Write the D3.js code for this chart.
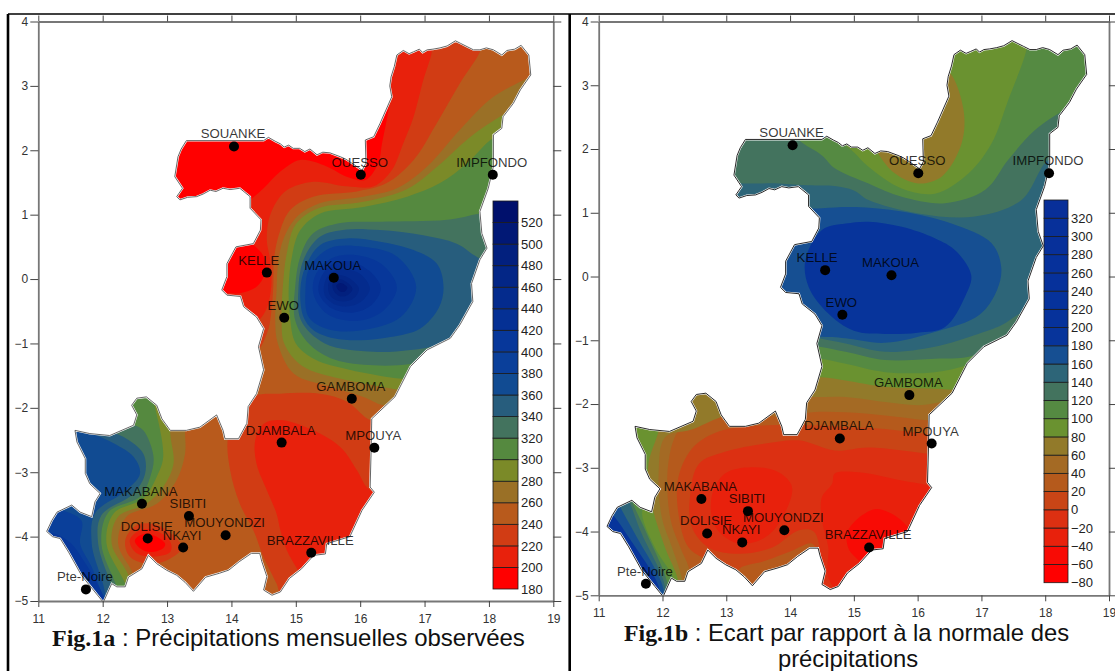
<!DOCTYPE html>
<html>
<head>
<meta charset="utf-8">
<script src="https://cdn.jsdelivr.net/npm/d3@7/dist/d3.min.js"></script>
<style>
  html, body { margin: 0; padding: 0; background: #fff; }
  svg { display: block; font-family: "Liberation Sans", Arial, sans-serif; }
</style>
</head>
<body>
<div id="chart"></div>
<script>
// 1. Data, everything in degrees

const lonTicks = [11, 12, 13, 14, 15, 16, 17, 18, 19]
const latTicks = [4, 3, 2, 1, 0, -1, -2, -3, -4, -5]

const stationNames = ["SOUANKE", "OUESSO", "IMPFONDO", "KELLE", "MAKOUA", "EWO", "GAMBOMA", "DJAMBALA", "MPOUYA",
  "MAKABANA", "SIBITI", "DOLISIE", "NKAYI", "MOUYONDZI", "BRAZZAVILLE", "Pte-Noire"]
const stationLon = [14.04, 16.01, 18.06, 14.55, 15.59, 14.82, 15.87, 14.78, 16.22, 12.61, 13.34, 12.7, 13.25, 13.91, 15.24, 11.74]
const stationLat = [2.06, 1.62, 1.62, 0.1, 0.02, -0.6, -1.86, -2.54, -2.62, -3.49, -3.68, -4.03, -4.17, -3.98, -4.25, -4.82]

const outline = [[13.3,2.15],[14.5,2.15],[14.575,2.2],[14.68,2.14],[14.76,2.1],[14.82,2.05],[14.89,2.08],[14.96,2.03],[15.06,2.03],[15.14,1.98],[15.22,2.02],[15.33,1.93],[15.42,1.97],[15.53,1.96],[15.69,1.9],[15.78,1.86],[15.87,1.8],[16.03,1.69],
  [16.09,1.8],[16.08,2.16],[16.21,2.21],[16.31,2.42],[16.49,2.83],[16.46,3.0],[16.48,3.14],[16.53,3.3],[16.57,3.48],[16.67,3.55],[16.76,3.5],[16.83,3.53],[16.92,3.57],[16.97,3.52],[17.04,3.56],[17.13,3.57],[17.24,3.59],[17.35,3.62],[17.48,3.7],[17.56,3.66],[17.66,3.61],[17.76,3.56],[17.86,3.56],[17.96,3.59],[18.07,3.56],[18.2,3.48],[18.28,3.55],[18.4,3.57],[18.5,3.63],[18.62,3.48],[18.65,3.17],
  [18.49,2.94],[18.38,2.73],[18.22,2.52],[18.2,2.34],[18.07,2.24],[18.07,1.75],[17.99,1.41],[17.86,1.05],[17.89,0.71],[17.97,0.48],[17.86,0.3],[17.73,-0.07],[17.75,-0.35],[17.55,-0.71],[17.4,-0.92],[17.04,-1.1],[16.78,-1.36],[16.54,-1.83],[16.18,-2.17],[16.17,-2.66],[16.155,-3.23],[16.22,-3.31],[16.03,-3.59],[15.84,-4.0],[15.48,-4.11],[15.46,-4.27],[15.28,-4.29],[15.09,-4.5],[14.9,-4.65],[14.76,-4.86],
  [14.63,-4.91],[14.5,-4.83],[14.55,-4.62],[14.47,-4.38],[14.44,-4.26],[14.31,-4.26],[14.12,-4.39],[13.96,-4.52],[13.81,-4.57],[13.6,-4.63],[13.41,-4.85],[13.28,-4.71],[13.15,-4.6],[12.99,-4.52],[12.84,-4.42],[12.71,-4.29],[12.61,-4.5],[12.4,-4.63],[12.35,-4.78],[12.22,-4.78],[12.14,-4.73],[12.01,-5.02],
  [11.88,-4.86],[11.67,-4.6],[11.47,-4.24],[11.34,-4.03],[11.22,-4.0],[11.13,-3.92],[11.21,-3.75],[11.29,-3.62],[11.52,-3.51],[11.65,-3.62],[11.83,-3.69],[11.88,-3.46],[11.96,-3.33],[11.8,-3.18],[11.73,-3.02],[11.73,-2.79],[11.6,-2.53],[11.57,-2.35],[11.8,-2.4],[12.11,-2.43],[12.48,-2.27],[12.53,-2.11],[12.45,-1.96],[12.53,-1.85],[12.68,-1.83],[12.84,-1.96],[12.92,-2.17],[13.05,-2.35],[13.3,-2.35],[13.51,-2.3],[13.77,-2.11],[13.87,-2.35],[13.9,-2.48],[14.11,-2.48],[14.24,-2.24],[14.26,-1.98],[14.39,-1.78],[14.5,-1.41],[14.42,-1.05],[14.5,-0.77],
  [14.39,-0.59],[14.19,-0.43],[14.14,-0.27],[13.93,-0.25],[13.85,-0.17],[13.93,0.04],[13.93,0.24],[14.07,0.5],[14.34,0.55],[14.45,0.76],[14.46,0.92],[14.29,1.1],[14.29,1.28],[14.13,1.41],[13.98,1.39],[13.87,1.41],[13.76,1.36],[13.67,1.38],[13.56,1.32],[13.46,1.28],[13.32,1.27],[13.2,1.23],[13.15,1.28],[13.24,1.41],[13.12,1.59],[13.17,1.9],[13.22,2.02]]

// Fig.1a: precipitation
const levelsA = [180, 200, 220, 240, 260, 280, 300, 320, 340, 360, 380, 400, 420, 440, 460, 480, 500, 520]
const coloursA = ["#ff0000", "#e8210c", "#d13c14", "#b85a1c", "#9a7026", "#7b8a28", "#55893f", "#43735e", "#275d7d", "#114b92", "#0a3f9a", "#07379a", "#053094", "#042b8d", "#032686", "#02207e", "#011875", "#00106c"]
const patchesA = [
  [200, [[16.48,3.0],[16.44,2.63],[16.34,2.11],[16.28,1.8],[16.08,1.54],[15.79,1.59],[15.48,1.75],[15.07,1.85],[14.76,1.67],[14.5,1.41],[14.29,1.23],[14.1,1.1],[14.15,0.8],[14.3,0.58],[14.5,0.35],[14.52,0.09],[14.39,-0.12],[14.13,-0.22],[13.8,-0.25],[13.7,-0.9],[13.6,-1.4],[10.8,-1.5],[10.8,-5.4],[17,-5.4],[19.2,-1],[19.2,4.2],[16.4,4.2],[16.3,3.4]]],
  [220, [[17.11,3.7],[17.11,3.52],[16.98,3.09],[16.83,2.52],[16.67,2.11],[16.49,1.69],[16.21,1.44],[15.79,1.44],[15.27,1.51],[14.86,1.38],[14.7,1.2],[14.58,0.92],[14.55,0.6],[14.6,0.3],[14.62,-0.1],[14.55,-0.45],[14.42,-0.65],[14.2,-0.8],[13.8,-1.2],[10.8,-1.5],[10.8,-5.4],[17,-5.4],[19.2,-1],[19.2,4.2]]],
  [240, [[17.87,3.75],[17.87,3.56],[17.55,3.04],[17.19,2.42],[16.83,1.85],[16.41,1.49],[15.95,1.36],[15.27,1.28],[14.91,1.07],[14.74,0.7],[14.66,0.3],[14.65,-0.1],[14.62,-0.5],[14.55,-0.85],[14.3,-1.2],[10.8,-1.5],[10.8,-5.4],[17,-5.4],[19.2,-1],[19.2,4.2]]],
  [260, [[18.8,3.25],[18.65,3.15],[18.07,2.83],[17.55,2.32],[17.04,1.75],[16.57,1.41],[16.05,1.28],[15.38,1.18],[15.02,0.97],[14.8,0.6],[14.72,0.2],[14.7,-0.2],[14.68,-0.64],[14.72,-1.0],[14.97,-1.47],[15.53,-1.67],[16.05,-1.83],[16.36,-1.96],[17,-2],[19.2,-1],[19.2,2]]],
  [280, [[18.5,2.7],[18.22,2.55],[17.7,2.2],[17.2,1.75],[16.73,1.4],[16.05,1.2],[15.35,1.1],[15.0,0.85],[14.86,0.4],[14.8,-0.1],[14.78,-0.6],[14.82,-1.0],[15.1,-1.35],[15.7,-1.55],[16.2,-1.65],[16.6,-1.72],[17.2,-1.8],[19.2,-1],[19.2,2]]],
  [300, [[18.4,2.3],[18.07,2.19],[17.66,1.8],[17.24,1.49],[16.73,1.28],[16.05,1.12],[15.38,1.02],[15.07,0.76],[14.94,0.35],[14.89,-0.12],[14.91,-0.59],[15.0,-1.0],[15.3,-1.25],[15.8,-1.4],[16.3,-1.5],[16.65,-1.55],[17.2,-1.6],[19.2,-1],[19.2,1.5]]],
  [320, [[18.4,1.1],[17.86,1.02],[17.35,0.92],[16.31,0.89],[15.69,0.87],[15.27,0.71],[15.07,0.35],[14.99,-0.12],[14.99,-0.64],[15.2,-1.0],[15.6,-1.25],[16.21,-1.34],[16.78,-1.32],[17.3,-1.2],[19,-0.6],[19,0.6]]],
  [340, [[18.5,0.35],[17.92,0.3],[17.5,0.55],[16.98,0.68],[16.31,0.76],[15.79,0.77],[15.38,0.66],[15.12,0.3],[15.04,-0.17],[15.08,-0.64],[15.45,-1.0],[16.21,-1.13],[16.78,-1.1],[17.1,-1.05],[17.5,-0.9],[18.5,-0.4]]],
  [360, [[17.295,-0.12],[17.19,0.24],[16.83,0.45],[16.31,0.58],[15.79,0.63],[15.38,0.53],[15.15,0.19],[15.07,-0.17],[15.12,-0.59],[15.27,-0.79],[15.59,-0.92],[16,-0.95],[16.47,-0.9],[16.93,-0.77],[17.22,-0.45]]],
  [380, [[16.87,-0.12],[16.57,0.35],[16.05,0.5],[15.53,0.48],[15.22,0.19],[15.15,-0.17],[15.2,-0.59],[15.5,-0.78],[16,-0.8],[16.63,-0.59]]],
  [400, [[16.57,-0.13],[16.35,0.22],[15.95,0.37],[15.55,0.32],[15.3,0.05],[15.28,-0.25],[15.5,-0.55],[15.95,-0.65],[16.35,-0.5]]],
  [420, [[16.32,-0.14],[16.15,0.12],[15.85,0.27],[15.55,0.22],[15.38,0.0],[15.36,-0.22],[15.55,-0.45],[15.9,-0.52],[16.18,-0.4]]],
  [440, [[16.15,-0.14],[16.0,0.08],[15.78,0.15],[15.55,0.1],[15.45,-0.05],[15.45,-0.25],[15.62,-0.4],[15.85,-0.42],[16.05,-0.32]]],
  [460, [[15.98,-0.15],[15.85,0.0],[15.7,0.06],[15.55,0.02],[15.5,-0.12],[15.55,-0.28],[15.72,-0.35],[15.9,-0.3]]],
  [480, [[15.88,-0.15],[15.78,-0.04],[15.65,0.0],[15.57,-0.08],[15.6,-0.2],[15.7,-0.27],[15.82,-0.24]]],
  [500, [[15.8,-0.13],[15.7,-0.06],[15.63,-0.1],[15.67,-0.18],[15.75,-0.2]]],
  // south-central low
  [220, [[14.15,-2.05],[13.95,-2.45],[13.98,-2.97],[14.13,-3.49],[14.34,-3.9],[14.5,-4.32],[14.7,-4.73],[14.85,-5.1],[16,-5.2],[16.8,-3.2],[16.6,-2.2],[16.18,-2.2],[15.79,-1.9],[15.38,-1.78],[14.76,-1.78],[14.35,-1.82]]],
  [200, [[14.37,-2.5],[14.39,-2.87],[14.55,-3.28],[14.7,-3.64],[14.76,-3.9],[14.86,-4.21],[15.02,-4.5],[15.3,-5],[16.3,-4.2],[16.5,-3.3],[16.22,-3.31],[16.1,-3.23],[15.95,-2.97],[15.69,-2.61],[15.27,-2.35],[14.76,-2.19],[14.5,-2.25]]],
  // south-west, rising towards the coast
  [260, [[12.48,-4.6],[12.24,-4.11],[12.37,-3.69],[12.84,-3.49],[13.15,-3.12],[13.28,-2.71],[13.28,-2.35],[13.3,-1.8],[11,-1.8],[10.9,-4.5],[12,-5.4],[12.6,-5.2]]],
  [280, [[12.4,-4.6],[12.14,-4.11],[12.24,-3.69],[12.68,-3.49],[12.94,-3.23],[13.1,-2.87],[13.05,-2.4],[13.05,-1.9],[11,-1.8],[10.9,-4.5],[12,-5.4],[12.55,-5.2]]],
  [300, [[12.35,-4.73],[12.06,-4.11],[12.17,-3.64],[12.63,-3.41],[12.84,-3.07],[12.94,-2.76],[12.81,-1.98],[12.7,-1.6],[11,-1.8],[10.9,-4.5],[12,-5.4],[12.5,-5.2]]],
  [320, [[12.22,-4.78],[11.98,-4.11],[12.09,-3.62],[12.58,-3.38],[12.74,-3.07],[12.79,-2.76],[12.63,-2.35],[12.45,-2.25],[12.2,-2.2],[11,-2],[10.8,-4],[11.8,-5.5],[12.4,-5.3]]],
  [340, [[12.17,-4.85],[11.93,-4.11],[11.98,-3.67],[12.48,-3.33],[12.66,-3.02],[12.63,-2.71],[12.32,-2.45],[11.96,-2.3],[11.8,-2.1],[11,-2],[10.8,-4],[11.8,-5.5],[12.3,-5.3]]],
  [360, [[12.04,-5.0],[11.83,-4.11],[11.88,-3.64],[12.37,-3.28],[12.58,-3.02],[12.48,-2.76],[12.17,-2.55],[11.65,-2.3],[11.4,-2.1],[11,-2],[10.8,-4],[11.8,-5.5]]],
  [380, [[12.0,-5.1],[11.85,-4.52],[11.65,-4.11],[11.67,-3.75],[11.28,-3.54],[11,-3.3],[10.9,-4.0],[11.6,-5.0]]],
  [400, [[12.05,-5.1],[11.9,-4.7],[11.72,-4.4],[11.5,-4.1],[11.2,-3.95],[11.0,-4.1],[11.6,-5.1]]],
  // Dolisie low
  [220, [[12.35,-4.06],[12.53,-3.82],[12.84,-3.82],[13.15,-4.03],[13.23,-4.18],[12.99,-4.37],[12.68,-4.42],[12.42,-4.31]]],
  [200, [[12.42,-4.06],[12.58,-3.9],[12.81,-3.9],[13.05,-4.08],[13.05,-4.24],[12.79,-4.31],[12.53,-4.26]]],
  [180, [[12.5,-4.06],[12.63,-3.96],[12.79,-3.98],[12.97,-4.11],[12.94,-4.18],[12.74,-4.24],[12.58,-4.18]]],
]

// Fig.1b: departure from normal
const levelsB = [-80, -60, -40, -20, 0, 20, 40, 60, 80, 100, 120, 140, 160, 180, 200, 220, 240, 260, 280, 300, 320]
const coloursB = ["#ff0000", "#f80b05", "#e8210c", "#dc3012", "#c94516", "#b55a1c", "#a46a24", "#927a2a", "#6a9230", "#558a42", "#43735e", "#2d6578", "#164f92", "#07349b", "#06329b", "#06329b", "#06319b", "#06319b", "#07309a", "#07309a", "#082f99"]
const patchesB = [
  [20, [[17,-2.5],[16.19,-2.47],[15.49,-2.39],[14.87,-2.36],[14.14,-2.33],[13.4,-2.35],[12.83,-2.45],[12.46,-2.7],[12.25,-3.15],[12.25,-3.72],[12.41,-4.25],[12.72,-4.46],[13.09,-4.7],[13.4,-5.1],[10.8,-5.4],[10.8,1],[19.2,1],[19.2,-1]]],
  [20, [[13.19,-4.61],[13.61,-4.46],[14.03,-4.3],[14.35,-4.19],[14.45,-4.51],[14.4,-4.98],[13.4,-5.1]]],
  [40, [[17,-2.3],[16.19,-2.26],[15.49,-2.18],[14.87,-2.13],[14.35,-2.13],[13.9,-2.2],[13.09,-2.1],[12.57,-2.15],[12.25,-2.41],[12.09,-2.94],[12.12,-3.78],[12.28,-4.25],[12.41,-4.56],[12.46,-5],[10.8,-5.4],[10.8,1],[19.2,1],[19.2,-1]]],
  [60, [[16.9,-2.0],[16.43,-1.97],[16.01,-2.02],[15.49,-1.97],[14.87,-1.89],[14.42,-1.89],[14.0,-1.9],[12.93,-2.2],[12.46,-2.4],[12.04,-2.52],[11.94,-3.09],[11.99,-3.78],[12.15,-4.25],[12.3,-4.72],[12.35,-5.2],[10.8,-5.4],[10.8,1],[19.2,1],[19.2,-1]]],
  [80, [[16.9,-1.76],[16.27,-1.76],[15.49,-1.73],[14.87,-1.63],[14.5,-1.58],[14.1,-1.6],[10.8,-1.4],[10.8,4.5],[19.2,4.5],[19.2,-1]]],
  [80, [[11.94,-2.2],[11.94,-2.41],[11.78,-2.94],[11.83,-3.57],[12.04,-4.25],[12.25,-4.8],[12.2,-5.2],[10.8,-5.4],[10.8,-1.8],[11.5,-2.0]]],
  [100, [[17.71,3.8],[17.71,3.58],[17.42,2.77],[17.16,2.09],[16.8,1.62],[16.27,1.3],[15.75,1.38],[15.23,1.72],[15.0,1.95],[14.85,2.08],[14.7,2.3],[14.4,2.6],[13,2.6],[12.8,1],[13.6,-0.8],[14,-1.3],[14.45,-1.29],[14.87,-1.37],[15.49,-1.5],[16.27,-1.5],[16.77,-1.39],[17.3,-1.2],[19.2,-1],[19.2,3.8]]],
  [100, [[11.75,-3.45],[11.68,-3.72],[11.88,-4.25],[12.2,-4.82],[12.1,-5.2],[10.8,-5.4],[10.8,-3.2],[11.4,-3.3]]],
  [120, [[18.6,2.8],[18.37,2.66],[17.84,2.3],[17.42,1.83],[17.06,1.36],[16.43,1.15],[15.75,1.25],[15.23,1.46],[14.7,1.7],[14.5,1.9],[14.14,2.14],[13.9,2.5],[12.8,2.5],[12.8,1],[13.6,-0.7],[14.1,-1.05],[14.46,-1.1],[14.87,-1.18],[15.49,-1.31],[16.27,-1.29],[16.8,-1.26],[17.2,-1.1],[19.2,-0.8],[19.2,2.5]]],
  [120, [[11.54,-3.57],[11.73,-3.98],[12.09,-4.87],[12.05,-5.2],[10.8,-5.4],[10.8,-3.2],[11.4,-3.2]]],
  [140, [[18.4,1.9],[18.05,1.83],[17.63,1.2],[16.9,0.94],[16.01,0.99],[15.23,1.2],[15.0,1.35],[14.7,1.42],[14.29,1.43],[13.82,1.46],[13.25,1.46],[12.8,1.5],[12.8,0.8],[13.6,-0.6],[14.1,-0.9],[14.45,-0.97],[14.87,-1.05],[15.49,-1.18],[16.27,-1.1],[16.95,-0.9],[17.32,-0.76],[17.74,-0.5],[18.6,-0.2],[19,1]]],
  [140, [[11.47,-3.51],[11.65,-3.98],[12.04,-4.87],[12.0,-5.2],[10.8,-5.4],[10.8,-3.2],[11.3,-3.2]]],
  [160, [[17.31,0.15],[17.16,0.52],[16.53,0.83],[15.75,1.02],[15.02,1.09],[14.5,1.07],[14.0,1.0],[13.6,0.5],[13.5,-0.4],[14.2,-0.9],[14.66,-0.95],[14.87,-0.97],[15.49,-1.04],[16.27,-0.87],[16.97,-0.6],[17.25,-0.2]]],
  [160, [[11.34,-3.62],[11.57,-4.04],[12.02,-4.93],[11.95,-5.2],[10.8,-5.4],[10.8,-3.3],[11.2,-3.3]]],
  [180, [[16.84,0.02],[16.6,0.4],[16.27,0.6],[15.75,0.78],[15.23,0.86],[14.87,0.83],[14.5,0.73],[14.24,0.26],[14.29,-0.16],[14.6,-0.58],[15.0,-0.85],[15.49,-0.9],[16.0,-0.88],[16.43,-0.79],[16.75,-0.3]]],
  [180, [[11.2,-3.72],[11.47,-4.09],[11.96,-4.93],[11.9,-5.2],[10.8,-5.4],[10.9,-3.5]]],
  // Ouesso low
  [60, [[16.51,3.19],[16.72,2.61],[16.69,2.09],[16.38,1.57],[16.01,1.46],[15.64,1.62],[15.38,1.93],[15.23,2.25],[16.1,2.6],[16.3,3.3]]],
  // southern lows
  [-20, [[16.5,-2.8],[16.19,-2.78],[15.23,-2.68],[14.7,-2.73],[14.14,-2.57],[13.61,-2.62],[12.98,-2.75],[12.57,-2.94],[12.43,-3.46],[12.46,-3.93],[12.72,-4.25],[13.19,-4.35],[13.72,-4.25],[14.14,-3.98],[14.37,-4.0],[14.48,-4.4],[14.45,-4.93],[15,-5.3],[16.5,-4]]],
  [-40, [[12.77,-3.46],[12.98,-3.09],[13.4,-2.99],[13.82,-3.07],[14.03,-3.3],[13.88,-3.78],[13.61,-4.09],[13.19,-4.19],[12.83,-3.93]]],
  [-40, [[14.5,-3.46],[14.66,-3.25],[14.7,-3.09],[15.07,-3.07],[15.75,-3.2],[16.22,-3.3],[16.5,-3.5],[16.3,-4.2],[15.3,-5.2],[14.9,-5.1],[14.6,-4.72],[14.6,-4.25],[14.5,-3.83]]],
  [-60, [[14.91,-3.98],[15.33,-3.65],[15.75,-3.83],[15.88,-4.04],[15.7,-4.5],[15.3,-4.6],[15.02,-4.4],[14.91,-4.25]]],
]

// 2. Panels

const width = 1115
const height = 671

const panels = [
  {
    id: "a", levels: levelsA, colours: coloursA, patches: patchesA, base: 180, top: 540,
    xRange: [38.3, 553.3], yRange: [601, 21.5],
    barX: 493, barW: 25, barRange: [589, 201], haloColor: "#555",
  },
  {
    id: "b", levels: levelsB, colours: coloursB, patches: patchesB, base: 0, top: 340,
    xRange: [598.7, 1109], yRange: [595.3, 21.5],
    barX: 1044, barW: 24, barRange: [582.7, 200], haloColor: "#111",
  },
]

const svg = d3.select("#chart").append("svg")
  .attr("width", width)
  .attr("height", height)

// frame
const frame = [[8, 14, 8, 671, 2.6], [569.7, 14, 569.7, 671, 2.6], [8, 14, 1115, 14, 1.4]]
svg.selectAll("line.frame").data(frame).join("line")
  .attr("class", "frame")
  .attr("x1", d => d[0]).attr("y1", d => d[1])
  .attr("x2", d => d[2]).attr("y2", d => d[3])
  .attr("stroke", "#000")
  .attr("stroke-width", d => d[4])

panels.forEach(drawPanel)

function drawPanel(p) {
  const xScale = d3.scaleLinear().domain([11, 19]).range(p.xRange)
  const yScale = d3.scaleLinear().domain([-5, 4]).range(p.yRange)
  const colour = d3.scaleOrdinal().domain(p.levels).range(p.colours)
  const bounds = svg.append("g")

  const ringPath = d3.line()
    .x(d => xScale(d[0]))
    .y(d => yScale(d[1]))
    .curve(d3.curveCatmullRomClosed.alpha(0.5))
  const outlinePath = d3.line()
    .x(d => xScale(d[0]))
    .y(d => yScale(d[1]))
    .curve(d3.curveLinearClosed)

  bounds.append("clipPath")
    .attr("id", "land-" + p.id)
    .append("path")
    .attr("d", outlinePath(outline))

  const land = bounds.append("g").attr("clip-path", `url(#land-${p.id})`)
  land.append("path")
    .attr("d", outlinePath(outline))
    .attr("fill", colour(p.base))
  land.selectAll("path.band").data(p.patches).join("path")
    .attr("class", "band")
    .attr("d", d => ringPath(d[1]))
    .attr("fill", d => colour(d[0]))

  bounds.append("path")
    .attr("d", outlinePath(outline))
    .attr("fill", "none")
    .attr("stroke", "#fff")
    .attr("stroke-width", 2)
  bounds.append("path")
    .attr("d", outlinePath(outline))
    .attr("fill", "none")
    .attr("stroke", p.haloColor)
    .attr("stroke-width", 0.9)

  // axes on all four sides
  const axes = [
    [d3.axisBottom(xScale).tickValues(lonTicks).tickFormat(d3.format("d")).tickSize(6).tickPadding(7), `translate(0,${p.yRange[0]})`],
    [d3.axisTop(xScale).tickValues(lonTicks).tickFormat("").tickSize(6), `translate(0,${p.yRange[1]})`],
    [d3.axisLeft(yScale).tickValues(latTicks).tickFormat(d3.format("d")).tickSize(8).tickPadding(2), `translate(${p.xRange[0]},0)`],
    [d3.axisRight(yScale).tickValues(latTicks).tickFormat("").tickSize(8), `translate(${p.xRange[1]},0)`],
  ]
  axes.forEach(([axis, transform]) => {
    const g = bounds.append("g").attr("transform", transform).call(axis.tickSizeOuter(0))
    g.select(".domain").attr("stroke", "#777").attr("stroke-width", 1.8)
    g.selectAll(".tick line").attr("stroke", "#444")
    g.selectAll(".tick text")
      .attr("fill", "#333")
      .style("font-family", "'Liberation Sans', Arial, sans-serif")
      .style("font-size", "12px")
  })

  // colour bar
  const barScale = d3.scaleLinear()
    .domain([p.levels[0], p.top])
    .range(p.barRange)
  const step = p.levels[1] - p.levels[0]
  bounds.selectAll("rect.bar").data(p.levels).join("rect")
    .attr("class", "bar")
    .attr("x", p.barX)
    .attr("width", p.barW)
    .attr("y", d => barScale(d + step))
    .attr("height", d => barScale(d) - barScale(d + step))
    .attr("fill", d => colour(d))
    .attr("stroke", "#1c1c1c")
    .attr("stroke-width", 0.8)
  const barAxis = d3.axisRight(barScale)
    .tickValues(p.levels)
    .tickFormat(d3.format("d"))
    .tickSize(0)
    .tickPadding(3)
  const barG = bounds.append("g")
    .attr("transform", `translate(${p.barX + p.barW},0)`)
    .call(barAxis)
  barG.select(".domain").remove()
  barG.selectAll(".tick text")
    .attr("fill", "#222")
    .style("font-family", "'Liberation Sans', Arial, sans-serif")
    .style("font-size", "13px")

  // stations
  const stations = stationNames.map((name, i) => ({ name, lon: stationLon[i], lat: stationLat[i] }))
  bounds.selectAll("circle.station").data(stations).join("circle")
    .attr("class", "station")
    .attr("cx", d => xScale(d.lon))
    .attr("cy", d => yScale(d.lat))
    .attr("r", 5)
    .attr("fill", "#000")
  bounds.selectAll("text.station").data(stations).join("text")
    .attr("class", "station")
    .attr("x", d => xScale(d.lon) + (d.name == "KELLE" ? -8 : -1))
    .attr("y", d => yScale(d.lat) - 8)
    .attr("text-anchor", "middle")
    .attr("fill", "#000")
    .attr("fill-opacity", 0.8)
    .style("font-size", "13.2px")
    .text(d => d.name)
}

// captions
const captions = [
  { x: 52, y: 646, size: 24, bold: "Fig.1a", rest: " : Précipitations mensuelles observées" },
  { x: 624, y: 641, size: 23.8, bold: "Fig.1b", rest: " : Ecart par rapport à la normale des" },
]
captions.forEach(c => {
  const t = svg.append("text")
    .attr("x", c.x)
    .attr("y", c.y)
    .attr("fill", "#111")
    .style("font-size", c.size + "px")
  t.append("tspan")
    .style("font-family", "'Liberation Serif', 'Times New Roman', serif")
    .style("font-weight", "bold")
    .text(c.bold)
  t.append("tspan").text(c.rest)
})
svg.append("text")
  .attr("x", 848)
  .attr("y", 667)
  .attr("text-anchor", "middle")
  .attr("fill", "#111")
  .style("font-size", "23.8px")
  .text("précipitations")
</script>
</body>
</html>
